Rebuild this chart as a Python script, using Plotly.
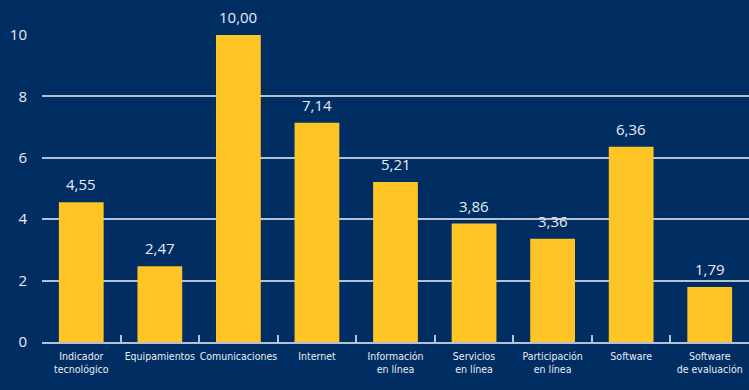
import plotly.graph_objects as go

categories = [
    "Indicador<br>tecnológico", "Equipamientos", "Comunicaciones", "Internet",
    "Información<br>en línea", "Servicios<br>en línea", "Participación<br>en línea",
    "Software", "Software<br>de evaluación",
]
values = [4.55, 2.47, 10.00, 7.14, 5.21, 3.86, 3.36, 6.36, 1.79]
labels = [f"{v:.2f}".replace(".", ",") for v in values]

navy = "#002e63"
yellow = "#ffc425"
grid = "#b4c0d6"
text_col = "#e8ecf4"

fig = go.Figure(go.Bar(
    x=categories, y=values,
    marker=dict(color=yellow, line=dict(width=0)),
    cliponaxis=False,
))

# value labels placed just above each bar
for c, v, t in zip(categories, values, labels):
    fig.add_annotation(
        x=c, y=v, text=t, showarrow=False, yanchor="bottom", yshift=6,
        font=dict(color=text_col, size=15, family="Open Sans"),
    )

fig.update_layout(
    width=749, height=390,
    paper_bgcolor=navy, plot_bgcolor=navy,
    margin=dict(l=42, r=0, t=35, b=48, autoexpand=False),
    bargap=0.43,
    showlegend=False,
)
fig.update_yaxes(
    range=[0, 10], dtick=2, showgrid=True, gridcolor=grid, gridwidth=2,
    zeroline=False, showline=False,
    tickfont=dict(color=text_col, size=15, family="Open Sans"),
    ticks="", ticklabelstandoff=14,
)
fig.update_xaxes(
    showline=True, linecolor=grid, linewidth=2,
    ticks="inside", tickson="boundaries", ticklen=7, tickcolor=grid, tickwidth=2,
    tickangle=0, automargin=False, ticklabelstandoff=3,
    tickfont=dict(color=text_col, size=10.5, family="DejaVu Sans Condensed"),
    showgrid=False,
)

fig.write_html("out.html")
